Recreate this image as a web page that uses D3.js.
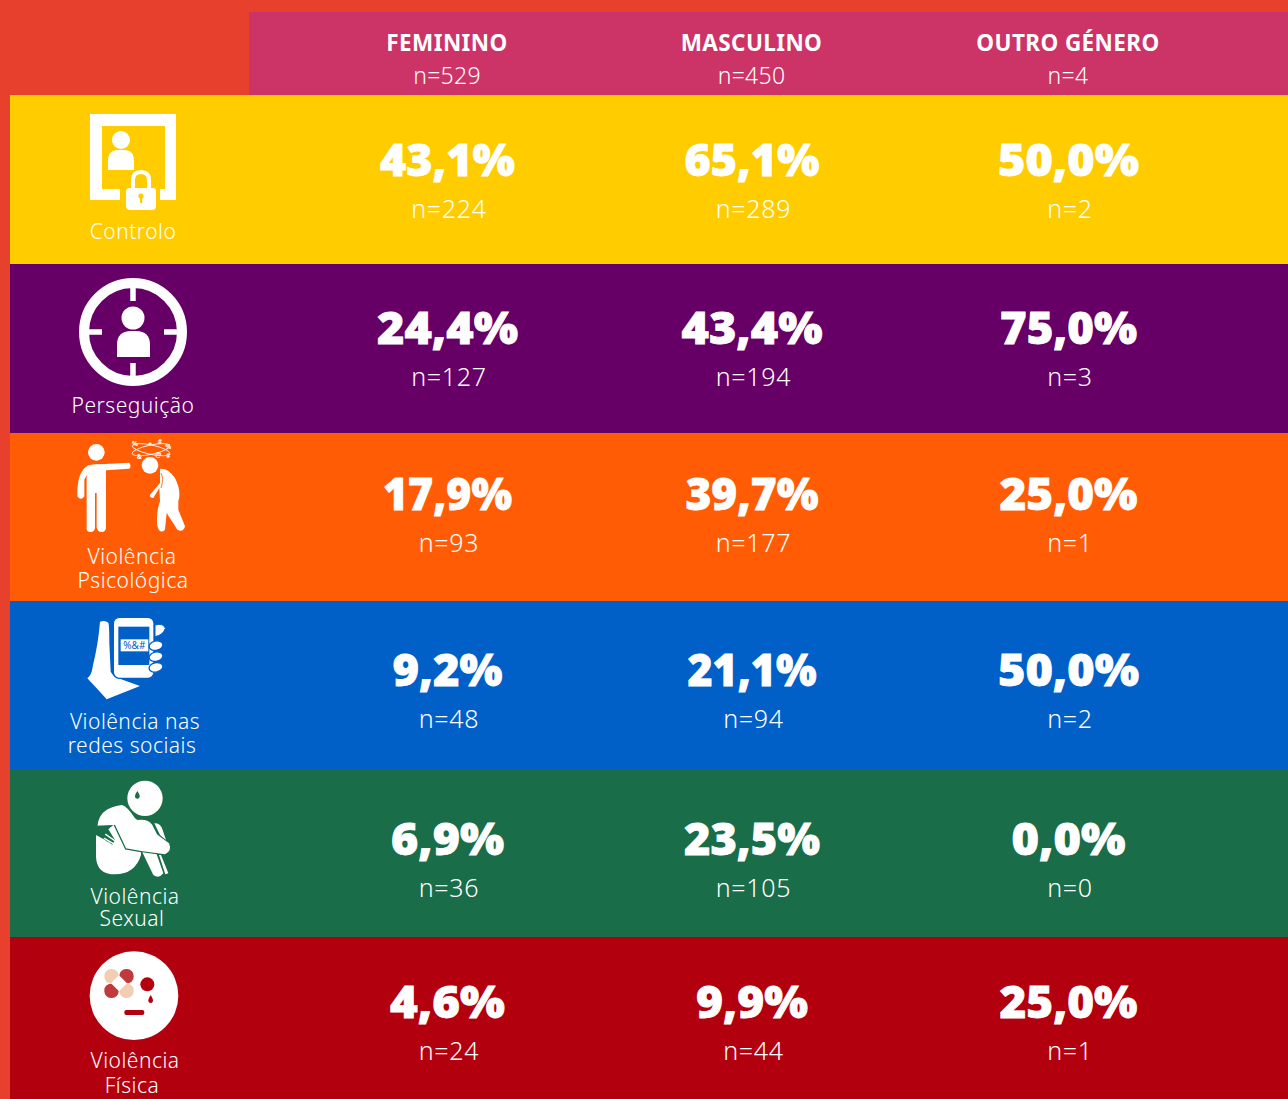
<!DOCTYPE html>
<html lang="pt"><head><meta charset="utf-8">
<script src="https://cdn.jsdelivr.net/npm/d3@7/dist/d3.min.js"></script>
<style>html,body{margin:0;padding:0;overflow:hidden;background:#e7412d}svg{display:block}</style>
</head><body><div id="chart"></div>
<script>
const genders = ["FEMININO", "MASCULINO", "OUTRO GÉNERO"];
const genderN = [529, 450, 4];
const categories = ["Controlo", "Perseguição", "Violência Psicológica", "Violência nas redes sociais", "Violência Sexual", "Violência Física"];
const feminino = [43.1, 24.4, 17.9, 9.2, 6.9, 4.6];
const masculino = [65.1, 43.4, 39.7, 21.1, 23.5, 9.9];
const outro = [50.0, 75.0, 25.0, 50.0, 0.0, 25.0];
const femininoN = [224, 127, 93, 48, 36, 24];
const masculinoN = [289, 194, 177, 94, 105, 44];
const outroN = [2, 3, 1, 2, 0, 1];
const rowColors = ["#ffcc00", "#660066", "#ff5c05", "#0060c8", "#1a6d49", "#b3000f"];

const W = 1288, H = 1099;
const svg = d3.select("#chart").append("svg").attr("width", W).attr("height", H);
svg.append("rect").attr("width", W).attr("height", H).attr("fill", "#e7412d");
svg.append("rect").attr("x", 249).attr("y", 12).attr("width", W - 249).attr("height", 84).attr("fill", "#cc3366");

const x = d3.scaleOrdinal().domain(genders).range([447.5, 752, 1068.5]);
const y = d3.scaleOrdinal().domain(categories).range([95, 264, 433, 601, 769, 937]);
const rowHeight = [169, 169, 168, 168, 168, 162];
const pctOffset = [65, 64, 61, 69, 70, 65];
const pctWidths = [[135, 135, 141], [141, 141, 137], [129, 133, 138], [110, 129, 141], [113, 136, 114], [115, 112, 138]];
const labelLines = [["Controlo"], ["Perseguição"], ["Violência", "Psicológica"], ["Violência nas", "redes sociais"], ["Violência", "Sexual"], ["Violência", "Física"]];
const labelYs = [[232], [406], [557, 581], [722, 746], [897, 919], [1061, 1086]];
const labelXs = [[133], [133], [132, 133], [135, 132], [135, 132], [135, 132]];
const LABEL = "'Noto Sans', sans-serif", BIG = "'Noto Sans', sans-serif";

const fmt = v => v.toFixed(1).replace(".", ",") + "%";
const series = [feminino, masculino, outro];
const seriesN = [femininoN, masculinoN, outroN];

// rows
svg.selectAll("rect.row").data(categories).join("rect").attr("class", "row")
  .attr("x", 10).attr("width", W - 10)
  .attr("y", d => y(d))
  .attr("height", (d, i) => rowHeight[i])
  .attr("fill", (d, i) => rowColors[i]);

// header
const head = svg.selectAll("g.head").data(genders).join("g").attr("class", "head");
head.append("text").attr("x", d => x(d) - 0.5).attr("y", 51).attr("text-anchor", "middle")
  .attr("font-family", LABEL).attr("font-weight", 700).attr("font-size", 22.5).attr("letter-spacing", 0.4).attr("fill", "#fff").text(d => d);
head.append("text").attr("x", d => x(d) - 0.5).attr("y", 84).attr("text-anchor", "middle")
  .attr("font-family", LABEL).attr("font-weight", 350).attr("font-size", 23).attr("letter-spacing", 0.3).attr("fill", "#fff").text((d, i) => "n=" + genderN[i]);

// values
genders.forEach((g, c) => {
  categories.forEach((cat, r) => {
    const cy = y(cat) + pctOffset[r];
    svg.append("text").attr("x", x(g)).attr("y", cy + 16).attr("text-anchor", "middle")
      .attr("font-family", BIG).attr("font-weight", 900).attr("font-size", 44).attr("fill", "#fff")
      .attr("stroke", "#fff").attr("stroke-width", 0.8)
      .attr("textLength", pctWidths[r][c]).attr("lengthAdjust", "spacingAndGlyphs").text(fmt(series[c][r]));
    svg.append("text").attr("x", x(g) + 1.5).attr("y", cy + 58).attr("text-anchor", "middle")
      .attr("font-family", LABEL).attr("font-weight", 350).attr("font-size", 25).attr("letter-spacing", 0.7).attr("fill", "#fff").text("n=" + seriesN[c][r]);
  });
});

// row labels
categories.forEach((cat, r) => {
  labelLines[r].forEach((ln, k) => {
    svg.append("text").attr("x", labelXs[r][k]).attr("y", labelYs[r][k] + 7).attr("text-anchor", "middle")
      .attr("font-family", LABEL).attr("font-weight", 350).attr("font-size", 21).attr("letter-spacing", 0.5).attr("fill", "#fff").text(ln);
  });
});

// icons
const icon = (tx, ty, s) => svg.append("g").attr("transform", `translate(${tx},${ty}) scale(${s})`).attr("fill", "#fff");
// Controlo
{
  const g = icon(0, 0, 1);
  g.append("path").attr("fill-rule", "evenodd").attr("d", "M90,114H176V200H160V189H165V126H102V189H120V200H90Z");
  g.append("circle").attr("cx", 121).attr("cy", 140).attr("r", 9);
  g.append("path").attr("d", "M108,170V161Q108,150 118,150H124Q134,150 134,161V170Z");
  g.append("path").attr("d", "M126,191Q126,188 130,188H153Q156,188 156,191V206Q156,210 152,210H130Q126,210 126,206Z");
  g.append("path").attr("fill", "none").attr("stroke", "#fff").attr("stroke-width", 4).attr("d", "M133,189V180Q133,172 141,172Q149,172 149,180V189");
  g.append("circle").attr("cx", 141).attr("cy", 196).attr("r", 2.6).attr("fill", rowColors[0]);
  g.append("rect").attr("x", 140).attr("y", 197).attr("width", 2.2).attr("height", 6).attr("fill", rowColors[0]);
}
// Perseguição
{
  const g = icon(0, 0, 1);
  g.append("circle").attr("cx", 133).attr("cy", 332).attr("r", 49).attr("fill", "none").attr("stroke", "#fff").attr("stroke-width", 10);
  g.append("path").attr("fill", "none").attr("stroke", "#fff").attr("stroke-width", 5.5).attr("d", "M133,288V301M133,363V376M89,332H102M164,332H177");
  g.append("circle").attr("cx", 133).attr("cy", 318).attr("r", 11.5);
  g.append("path").attr("d", "M117,357V345Q117,331 131,331H136Q150,331 150,345V357Z");
}
// Violência psicológica
{
  const g = icon(70, 438, 1 / 3);
  g.append("circle").attr("cx", 79).attr("cy", 43).attr("r", 25);
  g.append("path").attr("d", "M22,175Q20,100 55,82Q70,78 105,78L178,74Q185,85 178,92L108,97V268Q108,282 95,282Q82,282 80,268V165H75V268Q75,282 62,282Q48,282 50,268V112L43,125V175Q33,190 22,175Z");
  g.append("circle").attr("cx", 240).attr("cy", 82).attr("r", 25);
  g.append("path").attr("d", "M270,92Q295,90 315,120Q335,160 325,190L325,215L345,265Q340,285 322,275L290,225L285,275Q270,290 262,265Q258,220 270,190L268,150L250,180Q238,180 240,170L270,135Z");
  g.append("path").attr("fill", "none").attr("stroke", rowColors[2]).attr("stroke-width", 2.5).attr("d", "M273,105Q282,120 273,150");
  const e = g.append("g").attr("fill", "none").attr("stroke", "#fff").attr("stroke-width", 2.4);
  e.append("ellipse").attr("cx", 243).attr("cy", 35).attr("rx", 58).attr("ry", 14).attr("transform", "rotate(12 243 35)");
  e.append("ellipse").attr("cx", 243).attr("cy", 35).attr("rx", 58).attr("ry", 14).attr("transform", "rotate(-12 243 35)");
  const sym = [["%", 195, 16], ["*", 240, 20], ["%", 295, 25], ["#", 295, 53], ["@", 265, 50], ["&", 208, 55], ["#", 270, 12]];
  sym.forEach(s => g.append("text").attr("x", s[1]).attr("y", s[2] + 7).attr("text-anchor", "middle").attr("font-size", 20).attr("font-weight", 700).attr("font-family", LABEL).attr("fill", "#fff").text(s[0]));
}
// Redes sociais
{
  const g = icon(80, 610, 1 / 3);
  g.append("path").attr("d", "M60,35Q75,30 85,38Q88,45 88,100L92,185Q100,200 115,205L180,228L80,268Q55,240 22,205Q35,195 38,170Q55,100 60,35Z");
  g.append("rect").attr("x", 100).attr("y", 22).attr("width", 122).attr("height", 183).attr("rx", 18).attr("stroke", rowColors[3]).attr("stroke-width", 4);
  g.append("rect").attr("x", 115).attr("y", 50).attr("width", 93).attr("height", 115).attr("fill", rowColors[3]);
  g.append("rect").attr("x", 122).attr("y", 88).attr("width", 83).attr("height", 36);
  g.append("text").attr("x", 163).attr("y", 116).attr("text-anchor", "middle").attr("font-size", 30).attr("font-family", LABEL).attr("fill", rowColors[3]).text("%&#");
  g.append("path").attr("stroke", rowColors[3]).attr("stroke-width", 3).attr("d", "M225,45Q250,38 256,55Q250,75 225,80Z");
  [[228, 107], [228, 140], [228, 172]].forEach(f =>
    g.append("ellipse").attr("cx", f[0]).attr("cy", f[1]).attr("rx", 21).attr("ry", 14).attr("stroke", rowColors[3]).attr("stroke-width", 4).attr("transform", `rotate(-12 ${f[0]} ${f[1]})`));
}
// Sexual
{
  const g = icon(85, 775, 1 / 3), green = rowColors[4];
  g.append("circle").attr("cx", 180).attr("cy", 70).attr("r", 53);
  g.append("path").attr("fill", green).attr("d", "M157,48Q150,58 150,63Q150,71 157,71Q164,71 164,63Q164,58 157,48Z");
  g.append("path").attr("d", "M155,135Q190,130 202,150L222,190L170,150Z");
  g.append("path").attr("d", "M172,232L205,300Q222,312 235,295L215,238Z");
  g.append("path").attr("d", "M208,145Q226,142 233,165L243,195L225,180Z");
  g.append("path").attr("d", "M228,240L250,295L241,298L222,240Z");
  g.append("path").attr("d", "M38,150Q42,100 110,90Q125,92 150,130L252,205Q262,228 240,238L168,228V240Q150,298 90,298Q35,298 33,245V185Z");
  g.append("path").attr("fill", "none").attr("stroke", green).attr("stroke-width", 4).attr("d", "M88,150L122,222L168,230");
  g.append("path").attr("fill", green).attr("d", "M30,152L85,150L70,163L90,195L80,212L60,195L33,180Z");
  g.append("path").attr("fill", "none").attr("stroke", "#fff").attr("stroke-width", 4).attr("stroke-linecap", "round").attr("d", "M62,178L88,196M58,190L84,205M68,202L80,210");
}
// Física
{
  const g = icon(85, 955, 1 / 3), red = rowColors[5];
  g.append("circle").attr("cx", 147).attr("cy", 122).attr("r", 133);
  [[58, 42, "#f3cdb2"], [103, 42, "#c0393b"], [58, 86, "#c0393b"], [103, 86, "#f3cdb2"]].forEach(c =>
    g.append("rect").attr("x", c[0]).attr("y", c[1]).attr("width", 43).attr("height", 43).attr("rx", 20).attr("fill", c[2]));
  g.append("path").attr("d", "M102,61L126,85L102,109L78,85Z");
  g.append("circle").attr("cx", 187).attr("cy", 88).attr("r", 21).attr("fill", red);
  g.append("path").attr("fill", red).attr("d", "M197,120Q190,132 190,136Q190,144 197,144Q204,144 204,136Q204,132 197,120Z");
  g.append("rect").attr("x", 118).attr("y", 165).attr("width", 60).attr("height", 15).attr("rx", 6).attr("fill", red);
}
</script></body></html>
